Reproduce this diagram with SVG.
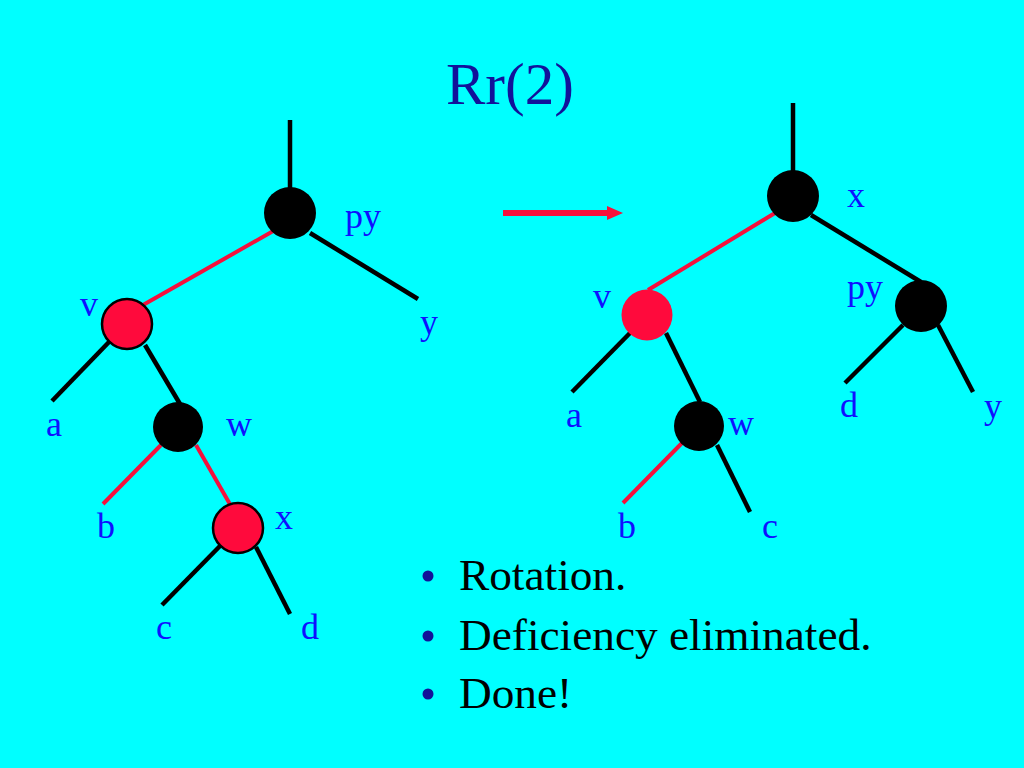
<svg xmlns="http://www.w3.org/2000/svg" width="1024" height="768" viewBox="0 0 1024 768">
<style>
.bk{stroke:#000;stroke-width:4.5;fill:none}
.rd{stroke:#f5103c;stroke-width:4;fill:none}
.nb{fill:#000}
.nr{fill:#ff0a3c;stroke:#000;stroke-width:2.5}
.nr2{fill:#ff0a3c}
.lb{font-family:"Liberation Serif","Times New Roman",serif;font-size:36px;fill:#1010ff}
.bt{font-family:"Liberation Serif","Times New Roman",serif;font-size:45.3px;fill:#000}
</style>
<rect width="1024" height="768" fill="#00ffff"/>
<text x="446" y="104" font-family="Liberation Serif, Times New Roman, serif" font-size="59" fill="#12129a">Rr(2)</text>
<g id="connectors">
<line class="bk" x1="290" y1="120" x2="290" y2="195"/>
<line class="rd" x1="275" y1="230" x2="143" y2="305"/>
<line class="bk" x1="310" y1="233" x2="418" y2="299"/>
<line class="bk" x1="109" y1="342" x2="52" y2="401"/>
<line class="bk" x1="145" y1="345" x2="180" y2="404"/>
<line class="rd" x1="161" y1="445" x2="103" y2="504"/>
<line class="rd" x1="196" y1="445" x2="231" y2="506"/>
<line class="bk" x1="220" y1="546" x2="162" y2="605"/>
<line class="bk" x1="256" y1="547" x2="290" y2="614"/>
<line class="bk" x1="793" y1="103" x2="793" y2="180"/>
<line class="rd" x1="775" y1="213" x2="648" y2="290"/>
<line class="bk" x1="811" y1="215" x2="921" y2="282"/>
<line class="bk" x1="903" y1="325" x2="845" y2="383"/>
<line class="bk" x1="938" y1="325" x2="973" y2="392"/>
<line class="bk" x1="630" y1="333" x2="572" y2="392"/>
<line class="bk" x1="666" y1="333" x2="700" y2="402"/>
<line class="rd" x1="682" y1="443" x2="623" y2="503"/>
<line class="bk" x1="717" y1="445" x2="750" y2="512"/>
<g id="arrow">
<line x1="503" y1="213" x2="610" y2="213" stroke="#f5103c" stroke-width="6"/>
<polygon points="607,206 623,213 607,220" fill="#f5103c"/>
</g>
</g>
<g id="L-py"><circle class="nb" cx="290" cy="213" r="26"/><text class="lb" x="345" y="228">py</text></g>
<g id="L-y"><text class="lb" x="420" y="334">y</text></g>
<g id="L-v"><circle class="nr" cx="127" cy="324" r="25"/><text class="lb" x="80" y="316">v</text></g>
<g id="L-a"><text class="lb" x="46" y="436">a</text></g>
<g id="L-w"><circle class="nb" cx="178" cy="427" r="25"/><text class="lb" x="226" y="436">w</text></g>
<g id="L-b"><text class="lb" x="97" y="538">b</text></g>
<g id="L-x"><circle class="nr" cx="238" cy="528" r="25"/><text class="lb" x="275" y="529">x</text></g>
<g id="L-c"><text class="lb" x="156" y="639">c</text></g>
<g id="L-d"><text class="lb" x="301" y="639">d</text></g>
<g id="R-x"><circle class="nb" cx="793" cy="196" r="26"/><text class="lb" x="847" y="207">x</text></g>
<g id="R-v"><circle class="nr2" cx="647" cy="315" r="25.5"/><text class="lb" x="593" y="308">v</text></g>
<g id="R-py"><circle class="nb" cx="921" cy="306" r="26"/><text class="lb" x="847" y="299">py</text></g>
<g id="R-d"><text class="lb" x="840" y="417">d</text></g>
<g id="R-y"><text class="lb" x="984" y="418">y</text></g>
<g id="R-a"><text class="lb" x="566" y="427">a</text></g>
<g id="R-w"><circle class="nb" cx="699" cy="426" r="25"/><text class="lb" x="728" y="435">w</text></g>
<g id="R-b"><text class="lb" x="618" y="538">b</text></g>
<g id="R-c"><text class="lb" x="762" y="538">c</text></g>
<g id="bullets">
<circle cx="428" cy="576" r="5.5" fill="#12129a"/>
<circle cx="428" cy="636" r="5.5" fill="#12129a"/>
<circle cx="428" cy="694" r="5.5" fill="#12129a"/>
<text class="bt" x="459" y="590">Rotation.</text>
<text class="bt" x="459" y="650">Deficiency eliminated.</text>
<text class="bt" x="459" y="708">Done!</text>
</g>
</svg>
